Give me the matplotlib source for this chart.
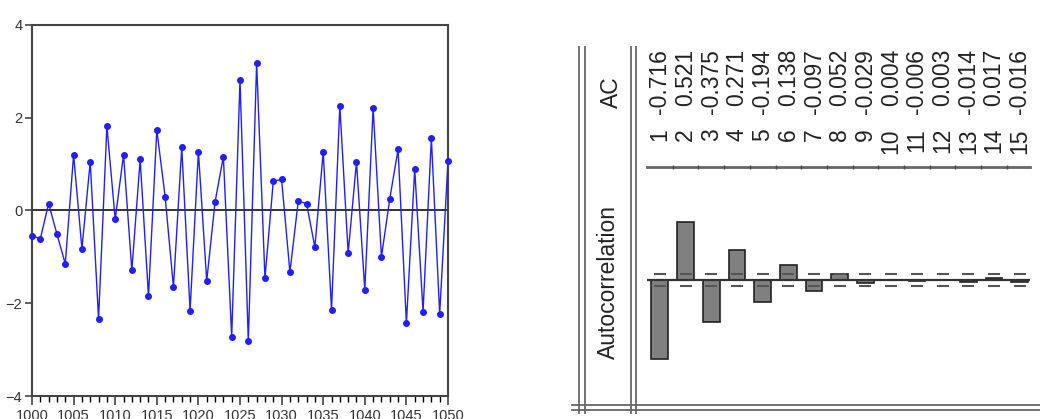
import numpy as np
import matplotlib
matplotlib.use('Agg')
import matplotlib.pyplot as plt
from matplotlib import transforms

plt.rcParams['font.family'] = ['Liberation Sans', 'DejaVu Sans']

# 左图：残差序列
years = list(range(1000, 1051))
resid = [-0.54, -0.61, 0.15, -0.51, -1.15, 1.20, -0.82, 1.05, -2.34, 1.82,
         -0.19, 1.20, -1.29, 1.10, -1.85, 1.74, 0.30, -1.65, 1.36, -2.16,
         1.27, -1.52, 0.18, 1.16, -2.72, 2.81, -2.82, 3.18, -1.46, 0.63,
         0.67, -1.33, 0.20, 0.15, -0.79, 1.26, -2.14, 2.26, -0.92, 1.05,
         -1.71, 2.21, -1.00, 0.25, 1.32, -2.43, 0.89, -2.18, 1.56, -2.23, 1.07]
y_ticks = [-4, -2, 0, 2, 4]
x_ticks = list(range(1000, 1051, 5))

# 右图：自相关
lags = list(range(1, 16))
ac = [-0.716, 0.521, -0.375, 0.271, -0.194, 0.138, -0.097, 0.052, -0.029, 0.004,
      -0.006, 0.003, -0.014, 0.017, -0.016]
conf = 0.05

fig = plt.figure(figsize=(10.4, 4.19), dpi=100)

# 左图
ax = fig.add_axes([32 / 1040, 1 - 396 / 419, 416 / 1040, 371 / 419])
ax.plot(years, resid, color='#1f1fff', lw=1.0, marker='o', markersize=4,
        clip_on=False, zorder=3)
ax.axhline(0, color='#222222', lw=1.3, zorder=2)
ax.set_xlim(1000, 1050)
ax.set_ylim(-4, 4)
ax.set_yticks(y_ticks)
ax.set_xticks(x_ticks)
ax.set_xticks(years, minor=True)
ax.tick_params(axis='both', colors='#444444', labelcolor='#333333', labelsize=10.5)
ax.tick_params(axis='y', length=5, width=1.2, pad=2)
ax.tick_params(axis='x', which='major', length=6.5, width=1.2, pad=3)
ax.tick_params(axis='x', which='minor', length=4.3, width=1.0)
for s in ax.spines.values():
    s.set_color('#444444')
    s.set_linewidth(1.5)

# 右图框线（像素坐标）
frame = fig.add_axes([0, 0, 1, 1])
frame.set_xlim(0, 1040)
frame.set_ylim(419, 0)
frame.axis('off')
lc = '#666666'
for x in [579, 585, 631, 636]:
    frame.plot([x, x], [47, 413], color=lc, lw=1.3)
for y in [405, 410]:
    frame.plot([572, 1040], [y, y], color=lc, lw=1.3)
frame.text(611, 92, 'AC', rotation=90, ha='center', va='center',
           fontsize=16.5, color='#222222')
frame.text(608, 282, 'Autocorrelation', rotation=90, ha='center', va='center',
           fontsize=16.5, color='#222222')

# 右图柱状
axb = fig.add_axes([647 / 1040, 1 - 391 / 419, 383 / 1040, 222 / 419])
axb.set_xlim(0.5, 15.4)
axb.set_ylim(-1, 1)
axb.axis('off')
axb.bar(lags, ac, width=0.65, color='#808080', edgecolor='#222222', lw=1.2, zorder=2)
axb.axhline(0, color='#333333', lw=1.6, zorder=3)
axb.plot(lags, [conf] * len(lags), ls='none', marker='_', markersize=8,
         mew=1.5, color='#555555', zorder=4)
axb.plot(lags, [-conf] * len(lags), ls='none', marker='_', markersize=8,
         mew=1.5, color='#555555', zorder=4)

# 表头
trans = transforms.blended_transform_factory(axb.transData, fig.transFigure)
axb.plot([0.5, 15.4], [1 - 167 / 419] * 2, transform=trans, color=lc, lw=2,
         clip_on=False)
axb.plot([l + 0.5 for l in lags[:-1]], [1 - 167 / 419] * 14, transform=trans,
         ls='none', marker='|', markersize=3, color='#444444', clip_on=False)
for l, v in zip(lags, ac):
    axb.text(l, 1 - 128 / 419, str(l), transform=trans, rotation=90,
             rotation_mode='anchor', ha='right', va='center', fontsize=16.5,
             color='#222222')
    axb.text(l, 1 - 49 / 419, '%.3f' % v, transform=trans, rotation=90,
             rotation_mode='anchor', ha='right', va='center', fontsize=16.5,
             color='#222222')

fig.savefig('out.png', dpi=100)
